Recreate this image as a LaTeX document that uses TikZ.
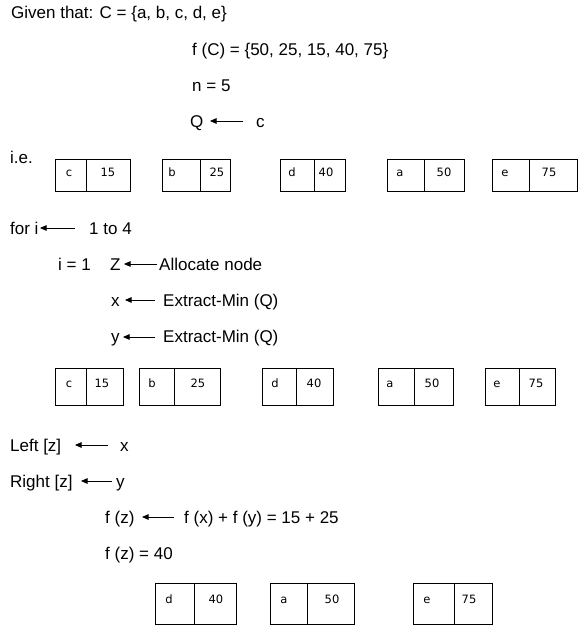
\documentclass[tikz,border=0pt]{standalone}
\usepackage{fontspec}
\setmainfont{Liberation Sans}
\newfontfamily\boxfont{DejaVu Sans}
\usetikzlibrary{arrows.meta}
\tikzset{
  txt/.style={anchor=base west, inner sep=0pt, font=\fontsize{17}{19}\selectfont},
  lbl/.style={anchor=base, inner sep=0pt, font=\boxfont\fontsize{11.5}{13}\selectfont},
  arr/.style={-{Triangle[length=6.5pt,width=5.5pt]}, line width=1pt},
  cellbox/.style={draw, line width=1pt, anchor=north west, inner sep=0pt, outer sep=0pt}
}
\newcommand\hcell[5]{\node[cellbox, minimum width={(#4-#2)*1pt}, minimum height={(#5-#3)*1pt}] (#1) at (#2,#3) {};}
% name, left, divider, right, top, bottom, key x, key, value x ; value in \valtext, baseline in \lblbase
\newcommand\hpair[9]{%
  \hcell{#1k}{#2}{#5}{#3}{#6}%
  \hcell{#1v}{#3}{#5}{#4}{#6}%
  \node[lbl] (#1kl) at (#7,\lblbase) {#8};%
  \node[lbl] (#1vl) at (#9,\lblbase) {\valtext};%
}
\begin{document}
\begin{tikzpicture}[x=1pt,y=-1pt]
\fill[white] (0,0) rectangle (585,632);
\useasboundingbox (0,0) rectangle (585,632);

% header
\node[txt] (given) at (11,18.5) {Given that: C = \{a, b, c, d, e\}};
\node[txt] (fC) at (192,55) {f (C) = \{50, 25, 15, 40, 75\}};
\node[txt] (n) at (192,91) {n = 5};
\node[txt] (Q) at (190,127) {Q};
\node[txt] (cQ) at (256,127) {c};
\coordinate (qa1) at (243,121); \coordinate (qa2) at (210,121);
\draw[arr] (qa1) -- (qa2);

\node[txt] (ie) at (10,163) {i.e.};

% row 1
\def\lblbase{176.5}
\def\valtext{15}\hpair{ra}{55}{86}{130}{159}{191}{69}{c}{108}
\def\valtext{25}\hpair{rb}{162}{200}{230}{159}{191}{172}{b}{217}
\def\valtext{40}\hpair{rc}{280}{314}{345}{159}{191}{292}{d}{326}
\def\valtext{50}\hpair{rd}{387}{424}{464}{159}{191}{400}{a}{444}
\def\valtext{75}\hpair{re}{492}{529}{577}{159}{191}{505}{e}{549}

% loop
\node[txt] (fori) at (10,234) {for i};
\coordinate (fa1) at (75,228); \coordinate (fa2) at (40,228);
\draw[arr] (fa1) -- (fa2);
\node[txt] (range) at (89,234) {1 to 4};

\node[txt] (i1) at (58,270) {i = 1};
\node[txt] (Z) at (110,270) {Z};
\coordinate (za1) at (157,264); \coordinate (za2) at (124,264);
\draw[arr] (za1) -- (za2);
\node[txt] (alloc) at (159,270) {Allocate node};

\node[txt] (xv) at (111,306) {x};
\coordinate (xa1) at (155,300); \coordinate (xa2) at (125,300);
\draw[arr] (xa1) -- (xa2);
\node[txt] (ex1) at (163,306) {Extract-Min (Q)};

\node[txt] (yv) at (111,342) {y};
\coordinate (ya1) at (155,337); \coordinate (ya2) at (123,337);
\draw[arr] (ya1) -- (ya2);
\node[txt] (ex2) at (163,342) {Extract-Min (Q)};

% row 2
\def\lblbase{387.5}
\def\valtext{15}\hpair{sa}{55}{86}{123}{368}{405}{69}{c}{102}
\def\valtext{25}\hpair{sb}{139}{174}{220}{368}{405}{152}{b}{198}
\def\valtext{40}\hpair{sc}{262}{296}{333}{368}{405}{275}{d}{314}
\def\valtext{50}\hpair{sd}{378}{414}{453}{368}{405}{390}{a}{432}
\def\valtext{75}\hpair{se}{485}{519}{555}{368}{405}{497}{e}{536}

% assignments
\node[txt] (left) at (10,451) {Left [z]};
\coordinate (la1) at (108,445); \coordinate (la2) at (75,445);
\draw[arr] (la1) -- (la2);
\node[txt] (lx) at (120,451) {x};

\node[txt] (right) at (10,487) {Right [z]};
\coordinate (ra1) at (112,481); \coordinate (ra2) at (81,481);
\draw[arr] (ra1) -- (ra2);
\node[txt] (ry) at (116,487) {y};

\node[txt] (fz) at (105,523) {f (z)};
\coordinate (fza1) at (174,517); \coordinate (fza2) at (142,517);
\draw[arr] (fza1) -- (fza2);
\node[txt] (fsum) at (184,523) {f (x) + f (y) = 15 + 25};

\node[txt] (fz40) at (105,559) {f (z) = 40};

% row 3
\def\lblbase{603.5}
\def\valtext{40}\hpair{ta}{155}{194}{236}{583}{624}{169}{d}{216}
\def\valtext{50}\hpair{tb}{270}{307}{354}{583}{624}{284}{a}{332}
\def\valtext{75}\hpair{tc}{413}{454}{492}{583}{624}{427}{e}{469}
\end{tikzpicture}
\end{document}
